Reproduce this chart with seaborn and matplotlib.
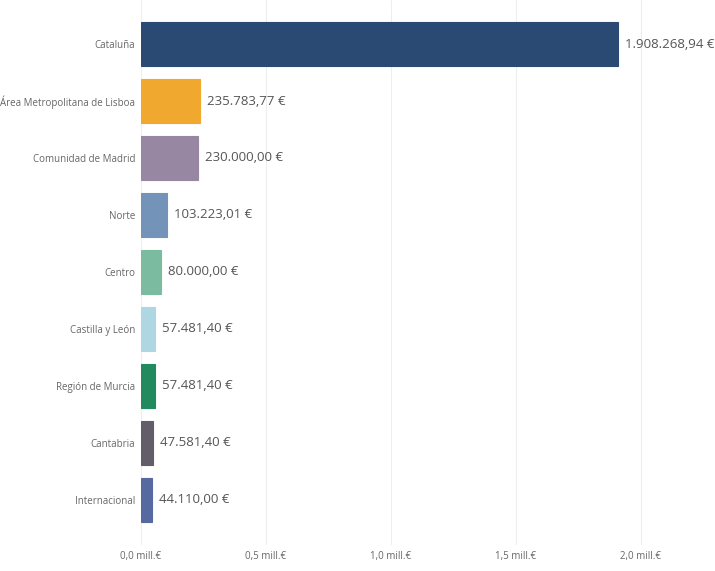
import pandas as pd
import seaborn as sns
import matplotlib.pyplot as plt

# Data
regions = ["Cataluña", "Área Metropolitana de Lisboa", "Comunidad de Madrid", "Norte",
           "Centro", "Castilla y León", "Región de Murcia", "Cantabria", "Internacional"]
amounts = [1908268.94, 235783.77, 230000.00, 103223.01, 80000.00,
           57481.40, 57481.40, 47581.40, 44110.00]
colors = ["#2B4A73", "#F0A92E", "#9887A3", "#7393B8", "#7BBBA0",
          "#AED6E3", "#218A5E", "#625D68", "#5669A0"]
x_ticks = [0, 500000, 1000000, 1500000, 2000000]
x_tick_labels = ["0,0 mill.€", "0,5 mill.€", "1,0 mill.€", "1,5 mill.€", "2,0 mill.€"]

df = pd.DataFrame({"region": regions, "amount": amounts})

sns.set_style("white")
plt.rcParams["font.family"] = ["Open Sans", "DejaVu Sans"]

fig = plt.figure(figsize=(7.15, 5.71), dpi=100)
ax = fig.add_axes([0.1972, 0.0455, 0.8028, 0.9545])

sns.barplot(data=df, x="amount", y="region", hue="region", palette=colors,
            orient="h", width=0.77, legend=False, ax=ax, saturation=1)
for patch, c in zip(ax.patches, colors):
    patch.set_edgecolor(c)
    patch.set_linewidth(0.8)

# value labels
def fmt_eur(v):
    s = f"{v:,.2f}".replace(",", "X").replace(".", ",").replace("X", ".")
    return s + " €"

for i, v in enumerate(amounts):
    ax.annotate(fmt_eur(v), (v, i), xytext=(5, 0), textcoords="offset points",
                va="center", ha="left", fontsize=9.5, color="#555555")

ax.set_xlim(0, 2297000)
ax.set_ylim(8.79, -0.772)
ax.set_xticks(x_ticks)
ax.set_xticklabels(x_tick_labels, fontsize=7, color="#666666")
ax.tick_params(axis="y", labelsize=7, labelcolor="#666666", length=0, pad=4)
ax.tick_params(axis="x", length=0, pad=4)
ax.xaxis.grid(True, color="#EEEEEE", linewidth=0.8)
ax.set_axisbelow(True)
ax.set_xlabel("")
ax.set_ylabel("")
for s in ax.spines.values():
    s.set_visible(False)

plt.savefig("out.png", dpi=100)
